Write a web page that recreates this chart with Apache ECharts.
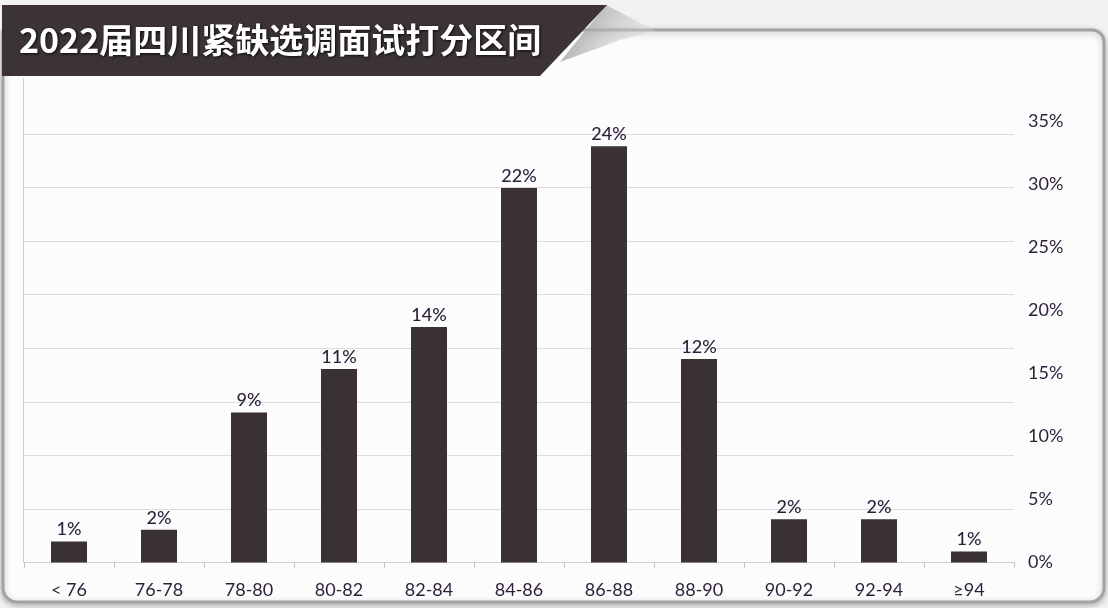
<!DOCTYPE html>
<html>
<head>
<meta charset="utf-8">
<script src="https://cdn.jsdelivr.net/npm/echarts@6/dist/echarts.min.js"></script>
<style>
html,body{margin:0;padding:0;background:#f2f2f2;}
#chart{width:1108px;height:608px;}
</style>
</head>
<body>
<div id="chart"></div>
<script>
const titleText = '2022届四川紧缺选调面试打分区间';
const categories = ['< 76','76-78','78-80','80-82','82-84','84-86','86-88','88-90','90-92','92-94','≥94'];
const barValues = [1.22, 1.91, 8.75, 11.29, 13.74, 21.85, 24.28, 11.87, 2.53, 2.53, 0.64];
const labelTexts = ['1%','2%','9%','11%','14%','22%','24%','12%','2%','2%','1%'];
const rightAxisMin = 0, rightAxisMax = 35, rightAxisStep = 5;

const chart = echarts.init(document.getElementById('chart'), null, {renderer: 'canvas'});
const txt = '#2b1f38';
const font = 'Lato, "Open Sans", sans-serif';

chart.setOption({
  backgroundColor: 'transparent',
  animation: false,
  graphic: [
    { type: 'rect', z: -10, shape: {x: 3, y: 30, width: 1101, height: 572, r: [0, 12, 14, 14]},
      style: {fill: '#fcfcfd', stroke: '#a3a3a3', lineWidth: 3, shadowBlur: 6, shadowColor: 'rgba(0,0,0,0.25)', shadowOffsetY: 2} },
    { type: 'line', z: -5, shape: {x1: 23.5, y1: 78, x2: 23.5, y2: 562.5},
      style: {stroke: '#cfcfd4', lineWidth: 1} },
    { type: 'polygon', z: 5, shape: {points: [[606, 5], [656, 31], [620, 40], [560, 62]]},
      style: {fill: new echarts.graphic.LinearGradient(0, 0, 1, 1, [{offset: 0, color: '#8e8e8e'}, {offset: 1, color: 'rgba(230,230,230,0.2)'}])} },
    { type: 'polygon', z: 6, shape: {points: [[2, 5], [607, 5], [540, 76], [2, 76]]},
      style: {fill: '#3b3335'} },
    { type: 'text', z: 7, left: 19, top: 23,
      style: {text: titleText, fill: '#ffffff', font: 'bold 34px "Noto Sans CJK SC", sans-serif',
        textShadowColor: 'rgba(0,0,0,0.8)', textShadowBlur: 3, textShadowOffsetX: 1, textShadowOffsetY: 1} }
  ],
  grid: [
    {left: 24, top: 134, width: 990, height: 428.5, containLabel: false},
    {left: 24, top: 121, width: 989, height: 441, containLabel: false}
  ],
  xAxis: [
    { type: 'category', gridIndex: 0, data: categories,
      axisLine: {lineStyle: {color: '#cfcfd4', width: 1}},
      axisTick: {show: true, alignWithLabel: false, length: 5, lineStyle: {color: '#bdbdc2'}},
      axisLabel: {color: txt, fontSize: 18, fontFamily: font, margin: 19},
      splitLine: {show: false} },
    { type: 'value', gridIndex: 1, show: false, min: 0, max: 1 }
  ],
  yAxis: [
    { type: 'value', gridIndex: 0, min: 0, max: 25, interval: 3.125,
      axisLabel: {show: false}, axisLine: {show: false}, axisTick: {show: false},
      splitLine: {show: true, lineStyle: {color: '#dcdce0', width: 1}} },
    { type: 'value', gridIndex: 1, position: 'right', min: rightAxisMin, max: rightAxisMax, interval: rightAxisStep,
      axisLabel: {color: txt, fontSize: 18, fontFamily: font, margin: 15, formatter: '{value}%'},
      axisLine: {show: false}, axisTick: {show: false}, splitLine: {show: false} }
  ],
  series: [{
    type: 'bar', xAxisIndex: 0, yAxisIndex: 0,
    data: barValues,
    barWidth: 36,
    itemStyle: {color: '#3a3133'},
    label: {show: true, position: 'top', distance: 3, color: txt, fontSize: 18, fontWeight: 500, fontFamily: font,
      formatter: p => labelTexts[p.dataIndex]}
  }]
});
</script>
</body>
</html>
